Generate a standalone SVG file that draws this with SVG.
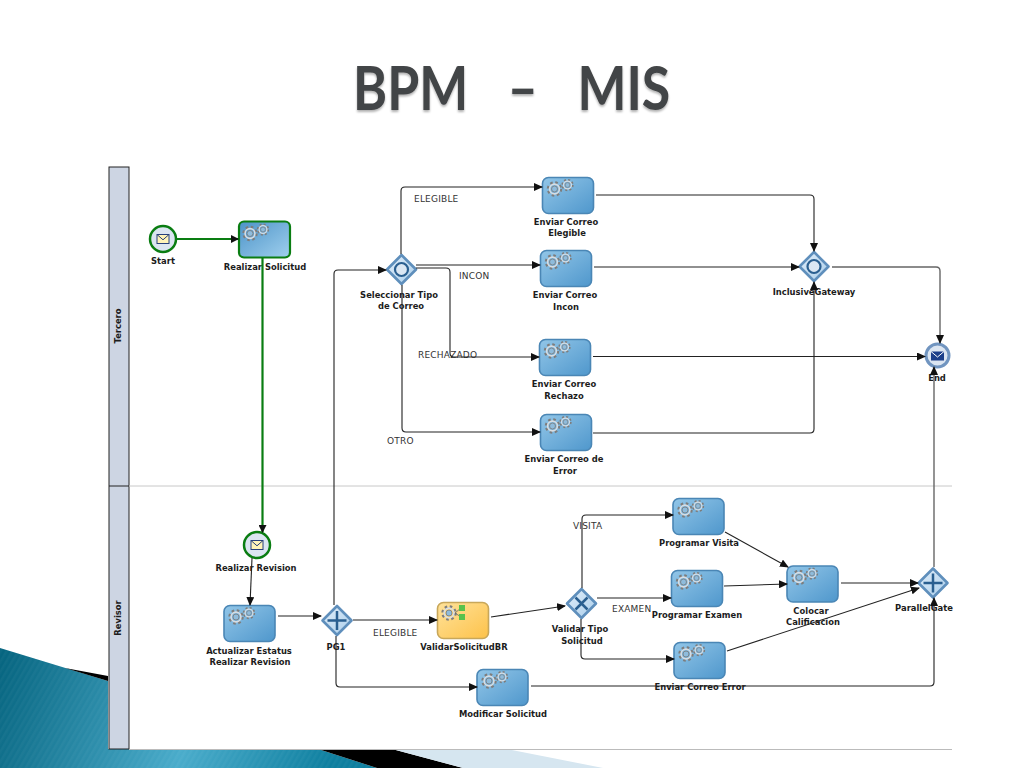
<svg xmlns="http://www.w3.org/2000/svg" xmlns:xlink="http://www.w3.org/1999/xlink" width="1024" height="768" viewBox="0 0 1024 768">
<style>
text{font-family:"DejaVu Sans","Liberation Sans",sans-serif}
.l{font-size:8.4px;font-weight:700;fill:#1c1c1c;text-anchor:middle}
.e{font-size:9px;fill:#333;letter-spacing:.2px}
.c{fill:none;stroke:#222;stroke-width:1.1;marker-end:url(#a)}
.d{fill:none;stroke:#666;stroke-width:1.4;marker-end:url(#a)}
.g{fill:none;stroke:#0a7d12;stroke-width:2.2;marker-end:url(#ag)}
.t{fill:url(#b);stroke:#4a86b5;stroke-width:1.6}
.lane{font-size:8.4px;font-weight:700;fill:#1c1c1c;text-anchor:middle}
.mark{fill:none;stroke:#2a5f90;stroke-width:2.5}
.ring{fill:#dbe7f3;stroke:#2a5f90;stroke-width:2.2}
</style>
<defs>
<linearGradient id="b" x1="0" y1="0" x2="1" y2="1"><stop offset="0" stop-color="#92c6e8"/><stop offset="1" stop-color="#4f97cc"/></linearGradient>
<linearGradient id="b2" x1="0" y1="0" x2="1" y2="1"><stop offset="0" stop-color="#4c93c8"/><stop offset="1" stop-color="#a0d0ee"/></linearGradient>
<linearGradient id="y" x1="0" y1="0" x2="1" y2="1"><stop offset="0" stop-color="#ffe29a"/><stop offset="1" stop-color="#fdc24a"/></linearGradient>
<linearGradient id="gw" x1="0" y1="0" x2="1" y2="1"><stop offset="0" stop-color="#e3effa"/><stop offset="1" stop-color="#a9cdea"/></linearGradient>
<linearGradient id="teal" gradientUnits="userSpaceOnUse" x1="0" y1="660" x2="330" y2="768"><stop offset="0" stop-color="#066580"/><stop offset=".58" stop-color="#4aaccb"/><stop offset="1" stop-color="#0e7f9f"/></linearGradient>
<pattern id="stripe" width="5" height="5" patternUnits="userSpaceOnUse" patternTransform="rotate(30)"><rect width="2.5" height="5" fill="#fff" opacity=".03"/></pattern>
<filter id="sh" x="-5%" y="-20%" width="110%" height="140%"><feDropShadow dx="0" dy="2" stdDeviation="1" flood-color="#000" flood-opacity=".3"/></filter>
<marker id="a" markerWidth="9" markerHeight="8" refX="8" refY="4" orient="auto" markerUnits="userSpaceOnUse"><path d="M0 0L9 4L0 8z" fill="#111"/></marker>
<marker id="ag" markerWidth="8" markerHeight="8" refX="7" refY="4" orient="auto" markerUnits="userSpaceOnUse"><path d="M0 0L8 4L0 8z" fill="#111"/></marker>
<g id="gear">
<circle r="6.500" fill="none" stroke="#7d7d7d" stroke-width="2.400" stroke-dasharray="2.550 2.550"/>
<circle r="4.900" fill="none" stroke="#d8dde2" stroke-width="1.600"/>
<circle r="3" fill="#8fbcdc" stroke="#777" stroke-width=".8"/>
</g>
<g id="gears"><use xlink:href="#gear" x="12" y="11.500"/><use xlink:href="#gear" transform="translate(25 7.500) scale(.8)"/></g>
<g id="task"><rect width="51" height="36" rx="6" class="t"/><use xlink:href="#gears"/></g>
<path id="dia" d="M0-14.500L14.500 0L0 14.500L-14.500 0z" fill="url(#gw)" stroke="#5f8fbc" stroke-width="2.600" stroke-linejoin="round"/>
<g id="env"><rect x="-6" y="-4.500" width="12" height="9" fill="#fff3b8" stroke="#27407c"/><path d="M-6-4.500L0 .8L6-4.500" fill="none" stroke="#27407c"/></g>
</defs>
<rect width="1024" height="768" fill="#fff"/>
<g id="background">
<path d="M0 648L108 681V749H318L377 768H0z" fill="url(#teal)"/>
<path d="M0 648L108 681V749H318L377 768H0z" fill="url(#stripe)"/>
<path d="M65 668L108 676V681z" fill="#000"/>
<path d="M318 749H392L463 768H377z" fill="#000"/>
<path d="M392 749H507L603 768H463z" fill="#d6e6f0"/>
</g>
<g id="title"><text transform="translate(353 110) scale(.85 1)" filter="url(#sh)" style="font-family:Lato,'Open Sans',sans-serif;font-weight:700;font-size:61px;fill:#424446"><tspan x="0">BPM</tspan><tspan x="182">–</tspan><tspan x="264">MIS</tspan></text></g>
<g id="pool">
<rect x="109" y="167" width="20" height="582" fill="#cdd5e3" stroke="#222"/>
<path d="M129 486H952" stroke="#c8c8c8"/>
<path d="M109 486H129" stroke="#222"/>
<path d="M129 749.500H952" stroke="#bbb"/>
<text class="lane" transform="translate(121 326) rotate(-90)">Tercero</text>
<text class="lane" transform="translate(121 618) rotate(-90)">Revisor</text>
</g>
<g id="n-start"><circle cx="163" cy="239" r="13" fill="#dbe5f1" stroke="#0a7d12" stroke-width="2.500"/><use xlink:href="#env" x="163" y="239"/><text class="l" x="163" y="264">Start</text></g>
<g id="n-realizar-solicitud"><rect x="239" y="221.500" width="51" height="36" rx="5" fill="url(#b2)" stroke="#0a7d12" stroke-width="2.200"/><use xlink:href="#gears" x="238" y="222"/><text class="l" x="265" y="270">Realizar Solicitud</text></g>
<g id="n-realizar-revision"><circle cx="257" cy="545" r="13" fill="#dbe5f1" stroke="#0a7d12" stroke-width="2.500"/><use xlink:href="#env" x="257" y="545"/><text class="l" x="256" y="571">Realizar Revision</text></g>
<g id="n-actualizar"><use xlink:href="#task" x="224" y="605.500"/><text class="l" x="249" y="654">Actualizar Estatus</text><text class="l" x="250" y="665">Realizar Revision</text></g>
<g id="n-pg1"><use xlink:href="#dia" x="337" y="620.500"/><path class="mark" d="M327.500 620.500H346.500M337 611V630"/><text class="l" x="336" y="650">PG1</text></g>
<g id="n-validar-br"><rect x="437.500" y="602.500" width="51" height="36" rx="6" fill="url(#y)" stroke="#c8a75a" stroke-width="1.600"/><use xlink:href="#gear" x="449" y="613"/><path d="M455 613L461 608M455 613L461 617" stroke="#666" stroke-width=".8"/><rect x="459" y="605" width="6" height="6" fill="#58c24c"/><rect x="459" y="614" width="6" height="6" fill="#58c24c"/><text class="l" x="464" y="650">ValidarSolicitudBR</text></g>
<g id="n-modificar"><use xlink:href="#task" x="477" y="669.500"/><text class="l" x="503" y="717">Modificar Solicitud</text></g>
<g id="n-validar-tipo"><use xlink:href="#dia" x="581.500" y="603.500"/><path class="mark" d="M575.500 597.500L587.500 609.500M587.500 597.500L575.500 609.500"/><text class="l" x="580" y="632">Validar Tipo</text><text class="l" x="582" y="644">Solicitud</text></g>
<g id="n-seleccionar"><use xlink:href="#dia" x="401.500" y="269.500"/><circle class="ring" cx="401.500" cy="269.500" r="6.500"/><text class="l" x="399" y="298">Seleccionar Tipo</text><text class="l" x="401" y="309">de Correo</text></g>
<g id="n-inclusive"><use xlink:href="#dia" x="814" y="266.500"/><circle class="ring" cx="814" cy="266.500" r="6.500"/><text class="l" x="814" y="295">InclusiveGateway</text></g>
<g id="n-parallel"><use xlink:href="#dia" x="933" y="583"/><path class="mark" d="M923.500 583H942.500M933 573.500V592.500"/><text class="l" x="924" y="611">ParallelGate</text></g>
<g id="n-end"><circle cx="937.500" cy="355.500" r="11.500" fill="#dbe5f1" stroke="#7195c0" stroke-width="3"/><rect x="931" y="351.500" width="13" height="9" fill="#1c3f8a"/><path d="M931 351.500L937.500 357L944 351.500" fill="none" stroke="#fff"/><text class="l" x="937" y="381">End</text></g>
<g id="n-correo-elegible"><use xlink:href="#task" x="542.500" y="177.500"/><text class="l" x="566" y="225">Enviar Correo</text><text class="l" x="567" y="236">Elegible</text></g>
<g id="n-correo-incon"><use xlink:href="#task" x="540.500" y="250.500"/><text class="l" x="565" y="298">Enviar Correo</text><text class="l" x="566" y="310">Incon</text></g>
<g id="n-correo-rechazo"><use xlink:href="#task" x="539.500" y="339.500"/><text class="l" x="564" y="387">Enviar Correo</text><text class="l" x="564" y="399">Rechazo</text></g>
<g id="n-correo-error"><use xlink:href="#task" x="540.500" y="414.500"/><text class="l" x="564" y="462">Enviar Correo de</text><text class="l" x="565" y="474">Error</text></g>
<g id="n-visita"><use xlink:href="#task" x="673" y="498.500"/><text class="l" x="699" y="546">Programar Visita</text></g>
<g id="n-examen"><use xlink:href="#task" x="671.500" y="570.500"/><text class="l" x="697" y="618">Programar Examen</text></g>
<g id="n-error"><use xlink:href="#task" x="674" y="642.500"/><text class="l" x="700" y="690">Enviar Correo Error</text></g>
<g id="n-colocar"><use xlink:href="#task" x="787" y="566"/><text class="l" x="811" y="614">Colocar</text><text class="l" x="813" y="625">Calificacion</text></g>
<g id="edge-labels">
<text class="e" x="414" y="202">ELEGIBLE</text>
<text class="e" x="459" y="279">INCON</text>
<text class="e" x="418" y="358">RECHAZADO</text>
<text class="e" x="387" y="444">OTRO</text>
<text class="e" x="373" y="636">ELEGIBLE</text>
<text class="e" x="573" y="529">VISITA</text>
<text class="e" x="612" y="612">EXAMEN</text>
</g>
<g id="connectors">
<path class="g" d="M177 239H238"/>
<path class="g" d="M262.500 258V532"/>
<path class="c" d="M252 558L250 605"/>
<path class="c" d="M278 616H321"/>
<path class="c" d="M353 620H437"/>
<path class="c" d="M491 617L565 606"/>
<path class="c" d="M336 636V683Q336 687 340 687H477"/>
<path class="c" d="M531 686H930Q934 686 934 682V598"/>
<path class="c" d="M334 605V274Q334 270 338 270H386"/>
<path class="c" d="M401 254V191Q401 187 405 187H542"/>
<path class="c" d="M416 265H540"/>
<path class="c" d="M416 268H446Q450 268 450 272V353Q450 357 454 357H539"/>
<path class="c" d="M402 285V428Q402 432 406 432H540"/>
<path class="c" d="M596 195H810Q814 195 814 199V251"/>
<path class="c" d="M594 267H799"/>
<path class="c" d="M593 433H810Q814 433 814 429V282"/>
<path class="c" d="M593 356.500H925"/>
<path class="d" d="M832 267H936Q940 267 940 271V343"/>
<path class="d" d="M934 567V367"/>
<path class="c" d="M582 588V519Q582 515 586 515H673"/>
<path class="c" d="M597 598H671"/>
<path class="c" d="M581 619V655Q581 659 585 659H674"/>
<path class="c" d="M725 532L788 567"/>
<path class="c" d="M724 586L787 584"/>
<path class="c" d="M727 651L919 588"/>
<path class="c" d="M841 583H918"/>
</g>
</svg>
